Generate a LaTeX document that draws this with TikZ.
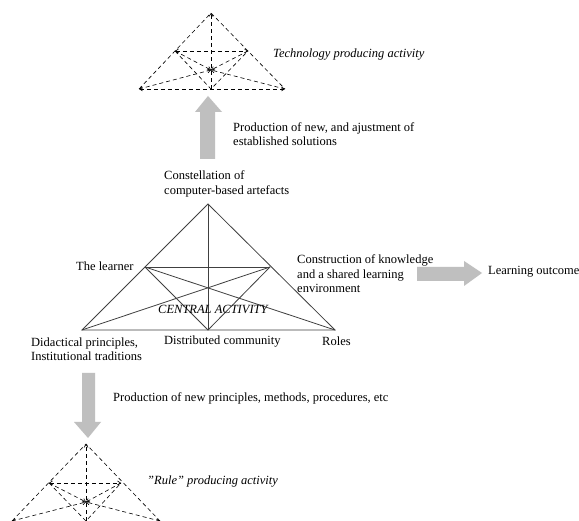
\documentclass[tikz,border=0pt]{standalone}
\usepackage{fontspec}
\setmainfont{Liberation Serif}
\usetikzlibrary{arrows.meta,shapes.arrows}
\begin{document}
\begin{tikzpicture}[x=1pt,y=-1pt,
  lbl/.style={inner sep=0pt,anchor=west,align=left,font=\fontsize{12.5}{14.5}\selectfont},
  ilbl/.style={lbl,font=\fontsize{12.5}{14.5}\selectfont\itshape},
  solidline/.style={draw=black!75,line width=0.8pt},
  dashline/.style={draw=black,line width=0.6pt,dash pattern=on 4pt off 3pt},
  dtip/.style={-{Straight Barb[length=3pt,width=4pt]}},
  ddtip/.style={{Straight Barb[length=3pt,width=4pt]}-{Straight Barb[length=3pt,width=4pt]}},
  grayarrow/.style={fill=black!25,draw=none}
]
\useasboundingbox (0,0) rectangle (579,521);
\fill[white] (0,0) rectangle (579,521);

% ---------- central triangle ----------
\coordinate (A) at (208,204);
\coordinate (BL) at (82,330);
\coordinate (BM) at (208,330);
\coordinate (BR) at (335,330);
\coordinate (ML) at (145,267);
\coordinate (MR) at (270,267);
\draw[solidline] (BL) -- (A) -- (BR) -- cycle;
\draw[solidline] (A) -- (BM);
\draw[solidline] (ML) -- (MR);
\draw[solidline] (ML) -- (BM) -- (MR);
\draw[solidline] (ML) -- (BR);
\draw[solidline] (BL) -- (MR);

% ---------- top dashed triangle ----------
\coordinate (tA) at (211,13);
\coordinate (tBL) at (139,89);
\coordinate (tBM) at (211,89);
\coordinate (tBR) at (285,89);
\coordinate (tML) at (175,51);
\coordinate (tMR) at (248,51);
\coordinate (tC) at (211,70);
\draw[dashline] (tBL) -- (tA) -- (tBR);
\draw[dashline,ddtip] (tBL) -- (tBR);
\draw[dashline,dtip] (tBM) -- (tA);
\draw[dashline,ddtip] (tML) -- (tMR);
\draw[dashline] (tML) -- (tBM) -- (tMR);
\draw[dashline,dtip] (tML) -- (tC);
\draw[dashline,dtip] (tBR) -- (tC);
\draw[dashline,dtip] (tBL) -- (tC);
\draw[dashline,dtip] (tMR) -- (tC);

% ---------- bottom dashed triangle ----------
\coordinate (bA) at (86,444);
\coordinate (bBL) at (12,521);
\coordinate (bBM) at (86,521);
\coordinate (bBR) at (160,521);
\coordinate (bML) at (49,483);
\coordinate (bMR) at (121,483);
\coordinate (bC) at (86,502);
\draw[dashline] (bBL) -- (bA) -- (bBR);
\draw[dashline,ddtip] (bBL) -- (bBR);
\draw[dashline,dtip] (bBM) -- (bA);
\draw[dashline,ddtip] (bML) -- (bMR);
\draw[dashline] (bML) -- (bBM) -- (bMR);
\draw[dashline,dtip] (bML) -- (bC);
\draw[dashline,dtip] (bBR) -- (bC);
\draw[dashline,dtip] (bBL) -- (bC);
\draw[dashline,dtip] (bMR) -- (bC);

% ---------- gray block arrows ----------
\fill[grayarrow] (200,159) -- (200,112) -- (195,112) -- (208,96) -- (222,112) -- (215,112) -- (215,159) -- cycle;
\fill[grayarrow] (82,373) -- (82,422) -- (74,422) -- (88,438) -- (101,422) -- (95,422) -- (95,373) -- cycle;
\fill[grayarrow] (417,267) -- (464,267) -- (464,261) -- (482,273) -- (464,286) -- (464,281) -- (417,281) -- cycle;

% ---------- labels ----------
\node[ilbl] (tech) at (273,55) {Technology producing activity};
\node[lbl] (prodnew) at (233,134) {Production of new, and ajustment of\\established solutions};
\node[lbl] (const) at (164,184) {Constellation of\\computer-based artefacts};
\node[lbl] (learner) at (76,266) {The learner};
\node[lbl] (constr) at (297,274) {Construction of knowledge\\and a shared learning\\environment};
\node[lbl] (outcome) at (488,272) {Learning outcome};
\node[ilbl] (central) at (158,309) {CENTRAL ACTIVITY};
\node[lbl] (didac) at (31,349) {Didactical principles,\\Institutional traditions};
\node[lbl] (distr) at (164,342) {Distributed community};
\node[lbl] (roles) at (322,341) {Roles};
\node[lbl] (prodprin) at (113,398) {Production of new principles, methods, procedures, etc};
\node[ilbl] (rule) at (147,482) {"Rule" producing activity};
\end{tikzpicture}
\end{document}
